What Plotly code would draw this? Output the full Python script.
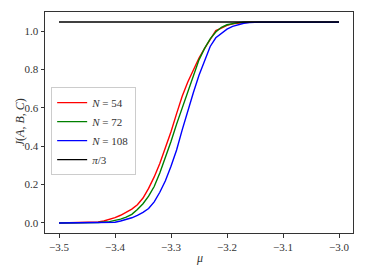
import numpy as np
import plotly.graph_objects as go

mu_54 = [-3.50, -3.45, -3.43, -3.42, -3.41, -3.40, -3.39, -3.38, -3.37, -3.36, -3.35, -3.34, -3.33,
         -3.32, -3.31, -3.30, -3.29, -3.28, -3.27, -3.26, -3.25, -3.24, -3.23, -3.22, -3.21,
         -3.20, -3.19, -3.18, -3.17, -3.16, -3.15, -3.00]
J_54 = [0.0, 0.002, 0.005, 0.01, 0.018, 0.028, 0.04, 0.055, 0.072, 0.095, 0.13, 0.18, 0.24,
        0.31, 0.39, 0.475, 0.57, 0.66, 0.735, 0.80, 0.86, 0.91, 0.955, 1.003, 1.015,
        1.03, 1.038, 1.042, 1.045, 1.046, 1.047, 1.047]

mu_72 = [-3.50, -3.43, -3.41, -3.40, -3.39, -3.38, -3.37, -3.36, -3.35, -3.34, -3.33, -3.32,
         -3.31, -3.30, -3.29, -3.28, -3.27, -3.26, -3.25, -3.24, -3.23, -3.22, -3.21, -3.20,
         -3.19, -3.18, -3.17, -3.16, -3.00]
J_72 = [0.0, 0.002, 0.007, 0.012, 0.02, 0.03, 0.045, 0.07, 0.10, 0.14, 0.19, 0.26,
        0.34, 0.425, 0.515, 0.60, 0.69, 0.77, 0.85, 0.91, 0.96, 0.995, 1.02, 1.033,
        1.04, 1.044, 1.046, 1.047, 1.047]

mu_108 = [-3.50, -3.42, -3.40, -3.39, -3.38, -3.37, -3.36, -3.35, -3.34, -3.33, -3.32, -3.31,
          -3.30, -3.29, -3.28, -3.27, -3.26, -3.25, -3.24, -3.23, -3.22, -3.21, -3.20, -3.19,
          -3.18, -3.17, -3.16, -3.15, -3.14, -3.00]
J_108 = [0.0, 0.001, 0.004, 0.01, 0.017, 0.027, 0.04, 0.055, 0.075, 0.11, 0.16, 0.22,
         0.295, 0.38, 0.485, 0.585, 0.68, 0.77, 0.85, 0.92, 0.965, 0.99, 1.01, 1.025,
         1.035, 1.041, 1.044, 1.046, 1.047, 1.047]

mu_ref = [-3.5, -3.0]
J_ref = [np.pi / 3, np.pi / 3]

x_title = "<i>μ</i>"
y_title = "<i>J</i>(<i>A</i>, <i>B</i>, <i>C</i>)"

FONT = "Liberation Serif, DejaVu Serif, serif"

fig = go.Figure()
for x, y, c, name in [
    (mu_54, J_54, "red", "<i>N</i> = 54"),
    (mu_72, J_72, "green", "<i>N</i> = 72"),
    (mu_108, J_108, "blue", "<i>N</i> = 108"),
    (mu_ref, J_ref, "black", "<i>π</i>/3"),
]:
    fig.add_trace(go.Scatter(x=x, y=y, mode="lines", name=name,
                             line=dict(color=c, width=1.4)))

axis_common = dict(showline=True, linecolor="#333", linewidth=1, mirror=True,
                   ticks="outside", ticklen=3.5, tickwidth=1, tickcolor="#333",
                   showgrid=False, zeroline=False, automargin=False,
                   tickfont=dict(family=FONT, size=11, color="#333"))

fig.update_xaxes(range=[-3.525, -2.975], tickvals=[-3.5, -3.4, -3.3, -3.2, -3.1, -3.0],
                 tickformat=".1f", **axis_common)
fig.update_yaxes(range=[-0.0524, 1.0996], tickvals=[0.0, 0.2, 0.4, 0.6, 0.8, 1.0],
                 tickformat=".1f", **axis_common)

fig.add_annotation(text=x_title, xref="paper", yref="paper", x=0.5, y=-0.112,
                   xanchor="center", yanchor="middle", showarrow=False,
                   font=dict(family=FONT, size=12, color="#333"))
fig.add_annotation(text=y_title, xref="paper", yref="paper", x=-0.082, y=0.5,
                   xanchor="center", yanchor="middle", showarrow=False, textangle=-90,
                   font=dict(family=FONT, size=12, color="#333"))

fig.update_layout(
    width=365, height=274,
    margin=dict(l=45, r=12, t=12, b=41),
    paper_bgcolor="white", plot_bgcolor="white",
    legend=dict(x=0.02, y=0.66, xanchor="left", yanchor="top",
                bgcolor="rgba(255,255,255,0.85)", bordercolor="#ccc", borderwidth=1,
                font=dict(family=FONT, size=11, color="#333"),
                itemwidth=30, tracegroupgap=0),
    showlegend=True,
)

fig.write_html("out.html", config={"displayModeBar": False},
               post_script="document.body.style.margin='0px';")
